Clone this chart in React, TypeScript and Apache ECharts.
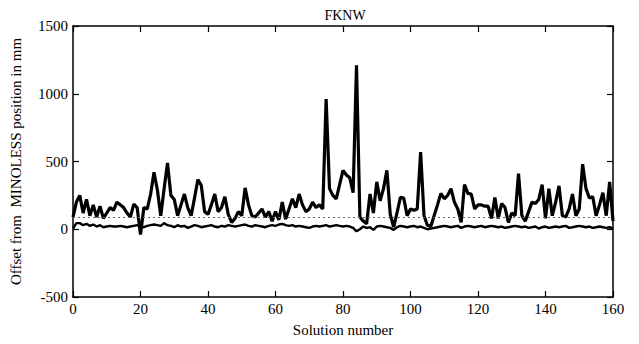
import React, { useEffect, useRef } from "react";
import * as echarts from "echarts";

const title = "FKNW";
const xTitle = "Solution number";
const yTitle = "Offset from  MINOLESS position in mm";
const upper = [
  90, 200, 250, 120, 220, 100, 180, 90, 170, 80,
  120, 160, 140, 200, 180, 160, 120, 90, 185, 160,
  -40, 160, 150, 260, 420, 290, 100, 300, 490, 250,
  220, 100, 180, 260, 160, 100, 230, 366, 325, 130,
  110, 180, 260, 130, 160, 240, 110, 50, 80, 130,
  100, 305, 180, 100, 90, 120, 150, 90, 130, 60,
  130, 70, 200, 75, 150, 225, 160, 260, 180, 130,
  150, 200, 160, 180, 150, 960, 300, 250, 225, 330,
  435, 400, 380, 270, 1210, 90, 60, 40, 260, 120,
  350, 210, 300, 435, 110, 15, 120, 235, 230, 100,
  150, 140, 150, 570, 100, 30, 20, 100, 180, 265,
  225, 250, 300, 200, 150, 50, 330, 265, 260, 150,
  180, 180, 170, 170, 80, 235, 80, 190, 160, 50,
  120, 100, 410, 100, 60, 130, 200, 190, 220, 330,
  80, 300, 100, 200, 320, 100, 90, 150, 260, 100,
  150, 480, 300, 230, 240, 100, 180, 270, 100, 350,
  60,
];
const lower = [
  5, 45, 45, 30, 40, 25, 35, 20, 30, 15,
  20, 25, 20, 20, 25, 20, 15, 20, 25, 30,
  20, 15, 25, 30, 35, 30, 25, 45, 30, 25,
  15, 30, 20, 25, 10, 20, 30, 25, 15, 20,
  25, 30, 20, 15, 25, 20, 30, 25, 20, 25,
  30, 35, 25, 20, 30, 25, 20, 15, 25, 30,
  25, 35, 40, 30, 25, 30, 20, 25, 20, 15,
  10, 20, 25, 20, 25, 30, 20, 25, 30, 25,
  20, 25, 20, 10, -15, 0, 20, 10, 15, -5,
  20, 25, 20, 15, 10, -5, 15, 25, 20, 15,
  20, 25, 15, 20, 10, 0, 5, 10, 15, 20,
  25, 20, 15, 20, 25, 10, 20, 25, 20, 15,
  20, 25, 15, 20, 25, 20, 15, 20, 10, 15,
  20, 25, 20, 15, 20, 10, 15, 20, 5, 15,
  20, 10, 15, 20, 15, 20, 25, 10, 15, 20,
  25, 20, 15, 20, 10, 15, 20, 15, 10, 15,
  5,
];
const refLevel = 85;
const xTicks = { min: 0, max: 160, interval: 20 };
const yTicks = { min: -500, max: 1500, interval: 500 };

export default function App() {
  const ref = useRef<HTMLDivElement>(null);
  useEffect(() => {
    const chart = echarts.init(ref.current!, null, { renderer: "svg" });
    const font = "Liberation Serif";
    const axisLine = { show: true, onZero: false, lineStyle: { color: "#000", width: 1.5 } };
    const tick = { show: true, inside: true, length: 6, lineStyle: { color: "#000", width: 1.2 } };
    const fmt = (v: number) => String(v);
    chart.setOption({
      animation: false,
      backgroundColor: "#fff",
      title: {
        text: title,
        left: 340,
        top: 3,
        textAlign: "center",
        textStyle: { fontFamily: font, fontSize: 14, fontWeight: "normal", color: "#000" },
      },
      grid: { left: 73, right: 26, top: 26, bottom: 47 },
      xAxis: [
        {
          type: "value",
          ...xTicks,
          name: xTitle,
          nameLocation: "middle",
          nameGap: 25,
          nameTextStyle: { fontFamily: font, fontSize: 15, color: "#000" },
          axisLine,
          axisTick: tick,
          axisLabel: { fontFamily: font, fontSize: 15, color: "#000", margin: 4, formatter: fmt },
          splitLine: { show: false },
        },
        {
          type: "value",
          ...xTicks,
          position: "top",
          axisLine,
          axisTick: tick,
          axisLabel: { show: false },
          splitLine: { show: false },
        },
      ],
      yAxis: [
        {
          type: "value",
          ...yTicks,
          name: yTitle,
          nameLocation: "middle",
          nameGap: 50,
          nameTextStyle: { fontFamily: font, fontSize: 15, color: "#000" },
          axisLine,
          axisTick: tick,
          axisLabel: { fontFamily: font, fontSize: 15, color: "#000", margin: 5, formatter: fmt },
          splitLine: { show: false },
        },
        {
          type: "value",
          ...yTicks,
          position: "right",
          axisLine,
          axisTick: tick,
          axisLabel: { show: false },
          splitLine: { show: false },
        },
      ],
      series: [
        {
          type: "line",
          data: lower.map((v, i) => [i, v]),
          showSymbol: false,
          lineStyle: { color: "#000", width: 2.4 },
          markLine: {
            silent: true,
            symbol: "none",
            label: { show: false },
            lineStyle: { color: "#666", type: [2, 3], width: 1 },
            data: [{ yAxis: refLevel }],
          },
        },
        {
          type: "line",
          data: upper.map((v, i) => [i, v]),
          showSymbol: false,
          lineStyle: { color: "#000", width: 3.2 },
        },
      ],
    });
    return () => chart.dispose();
  }, []);
  return <div ref={ref} style={{ width: 639, height: 344, position: "fixed", left: 0, top: 0 }} />;
}
